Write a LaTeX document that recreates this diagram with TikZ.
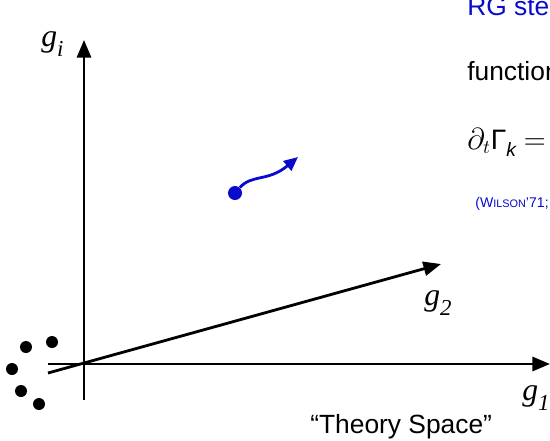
\documentclass[tikz,border=0pt]{standalone}
\usepackage{fontspec}
\setmainfont{Liberation Serif}
\setsansfont{Liberation Sans}
\usetikzlibrary{positioning,arrows.meta}
\definecolor{flow}{RGB}{10,10,205}
\newcommand{\glab}[2]{\textit{g}\raisebox{-0.32em}{\fontsize{13}{13}\selectfont\textit{#2}}}

\begin{document}
\begin{tikzpicture}[x=0.02cm,y=-0.02cm,
  axis/.style={line width=1.6pt,-{Triangle[length=10pt,width=8pt]}},
  seed/.style={circle,fill,inner sep=0pt,minimum size=0.24cm},
  coup/.style={inner sep=0pt,anchor=base west,font=\fontsize{18}{20}\selectfont},
  slide/.style={inner sep=0pt,anchor=base west,font=\sffamily\fontsize{15}{18}\selectfont}]
  \useasboundingbox (0,0) rectangle (550,440);
  \clip (0,0) rectangle (550,440);
  % axes
  \coordinate (gibase) at (84,400);
  \coordinate (gitip)  at (84,40);
  \coordinate (g1base) at (48,364);
  \coordinate (g1tip)  at (550,364);
  \coordinate (g2base) at (48,373);
  \coordinate (g2tip)  at (441,264);
  \draw[axis] (gibase) -- (gitip);
  \draw[axis] (g1base) -- (g1tip);
  \draw[axis] (g2base) -- (g2tip);
  \node[coup] (gi) at (41,46) {\glab{g}{i}};
  \node[coup] (g2) at (424,305) {\glab{g}{2}};
  \node[coup] (g1) at (522,400) {\glab{g}{1}};
  % the other couplings
  \node[seed] (s1) at (52,342) {};
  \node[seed] (s2) at (26,347) {};
  \node[seed] (s3) at (12,369) {};
  \node[seed] (s4) at (21,391) {};
  \node[seed] (s5) at (39,404) {};
  % one RG step
  \node[seed,flow,minimum size=0.28cm] (start) at (235,193) {};
  \coordinate (step) at (298,157);
  \draw[flow,line width=1.6pt,-{Triangle[length=8pt,width=7pt]}]
    (start) .. controls (252,174) and (268,182) .. (step);
  \node[slide] (theory) at (310,433) {``Theory Space''};
  % text of the slide
  \node[slide,text=flow] (rg) at (467,15) {RG step};
  \node[slide] (func) at (467,80) {functional};
  \node[inner sep=0pt,anchor=base west,font=\fontsize{16}{18}\selectfont] (wett) at (467,149)
    {$\partial_t$\textsf{Γ}\raisebox{-0.25em}{\sffamily\itshape\fontsize{11}{12}\selectfont k}\;$=$};
  \node[inner sep=0pt,anchor=base west,text=flow,font=\sffamily\fontsize{8}{10}\selectfont] (cite) at (475,207)
    {(W{\fontsize{6.2}{8}\selectfont ILSON}'71; W{\fontsize{6.2}{8}\selectfont EGNER}};
\end{tikzpicture}
\end{document}
